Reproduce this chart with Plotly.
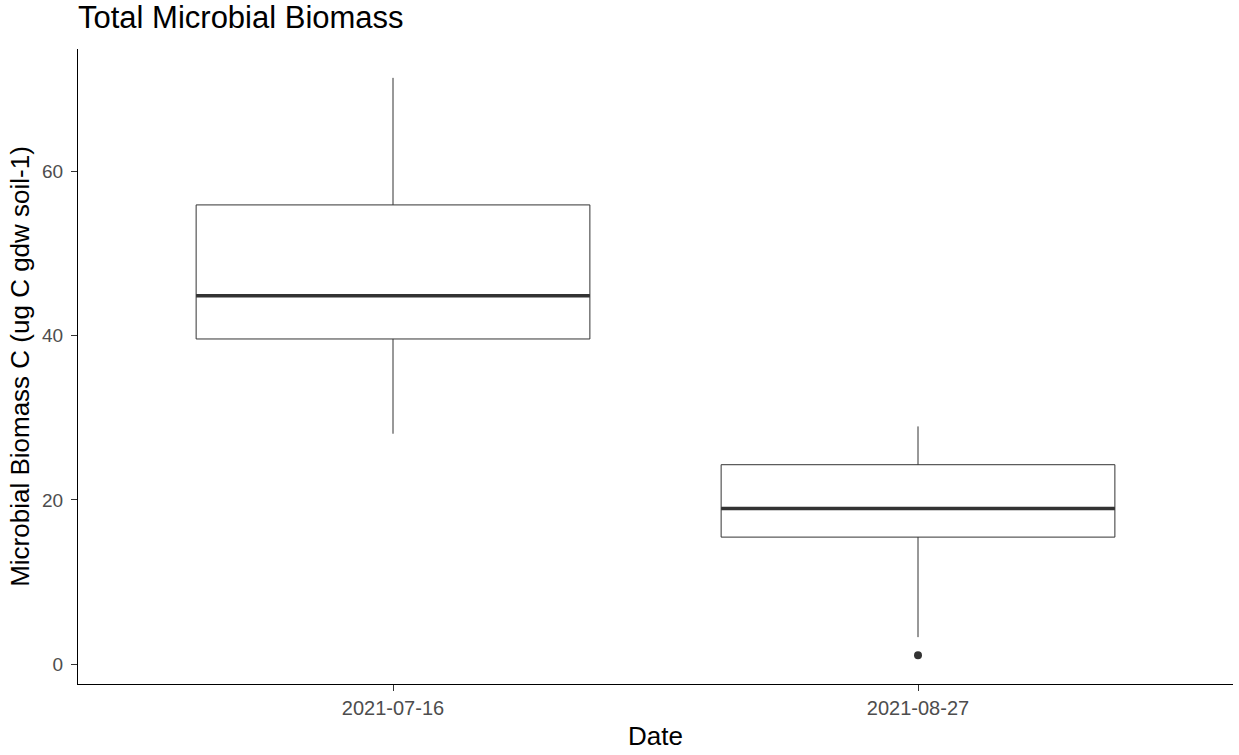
import plotly.graph_objects as go

# Data
dates = ["2021-07-16", "2021-08-27"]
positions = [1, 2]
lower_whisker = [28.06, 3.31]
q1 = [39.59, 15.48]
median = [44.86, 18.97]
q3 = [55.90, 24.29]
upper_whisker = [71.36, 28.95]
outlier_x = [2]
outlier_y = [1.12]

y_ticks = [0, 20, 40, 60]
box_width = 0.75

FONT = "Liberation Sans, Arial, sans-serif"
LINE = "#333333"

fig = go.Figure()

fig.add_trace(go.Box(
    x=positions,
    q1=q1, median=median, q3=q3,
    lowerfence=lower_whisker, upperfence=upper_whisker,
    width=box_width,
    whiskerwidth=0,
    boxpoints=False,
    fillcolor="white",
    line=dict(color=LINE, width=1),
    showlegend=False,
    hoverinfo="skip",
))

# Thicker median lines (ggplot fatten)
for p, m in zip(positions, median):
    fig.add_shape(type="line", xref="x", yref="y",
                  x0=p - box_width / 2, x1=p + box_width / 2, y0=m, y1=m,
                  line=dict(color=LINE, width=3.5), layer="above")

fig.add_trace(go.Scatter(
    x=outlier_x, y=outlier_y, mode="markers",
    marker=dict(color=LINE, size=8),
    showlegend=False, hoverinfo="skip",
))

data_min = min(min(lower_whisker), min(outlier_y))
data_max = max(upper_whisker)
pad = (data_max - data_min) * 0.05

fig.update_layout(
    width=1239, height=755,
    margin=dict(l=78, r=6, t=49, b=71, autoexpand=False),
    paper_bgcolor="white", plot_bgcolor="white",
    font=dict(family=FONT, color="black"),
    title=dict(text="Total Microbial Biomass", x=78 / 1239, xanchor="left",
               xref="container", yref="container", y=1 - 6 / 755, yanchor="top",
               font=dict(size=31, color="black", family=FONT)),
    xaxis=dict(
        range=[0.4, 2.6], tickmode="array", tickvals=positions, ticktext=dates,
        showline=True, linecolor="black", linewidth=1,
        ticks="outside", ticklen=6, tickcolor=LINE, tickwidth=1,
        showgrid=False, zeroline=False, automargin=False,
        tickfont=dict(size=20, color="#4D4D4D", family=FONT),
        title=dict(text="Date", font=dict(size=26, color="black", family=FONT), standoff=8),
    ),
    yaxis=dict(
        range=[data_min - pad, data_max + pad], tickmode="array", tickvals=y_ticks,
        showline=True, linecolor="black", linewidth=1,
        ticks="outside", ticklen=6, tickcolor=LINE, tickwidth=1,
        showgrid=False, zeroline=False, automargin=False,
        ticklabelstandoff=4,
        tickfont=dict(size=19, color="#4D4D4D", family=FONT),
        title=dict(text="Microbial Biomass C (ug C gdw soil-1)",
                   font=dict(size=26, color="black", family=FONT), standoff=4),
    ),
)

fig.write_html(
    "out.html",
    config={"displayModeBar": False},
    post_script="document.body.style.margin='0';document.body.style.overflow='hidden';",
)
